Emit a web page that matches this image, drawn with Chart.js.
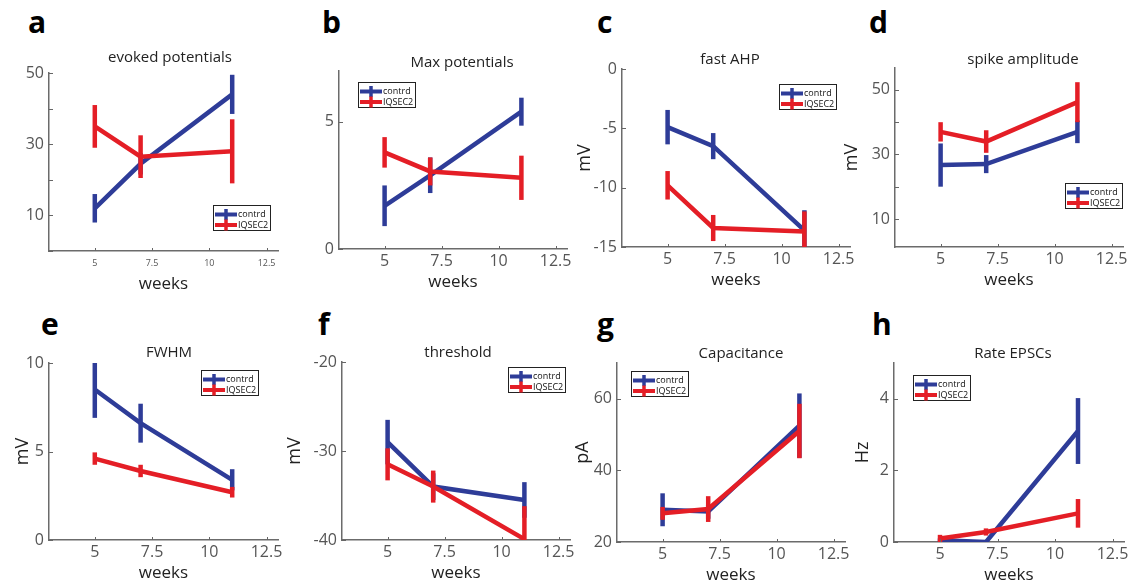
<!DOCTYPE html>
<html>
<head>
<meta charset="utf-8">
<script src="https://cdn.jsdelivr.net/npm/chart.js@4.4.0/dist/chart.umd.min.js"></script>
<style>
  body { margin: 0; background: #fff; width: 1135px; height: 583px; position: relative; overflow: hidden; font-family: 'Open Sans', sans-serif; }
  canvas { position: absolute; }
  .letter { position: absolute; font: bold 30px 'Open Sans', sans-serif; color: #000; line-height: 1; }
  .ttl { position: absolute; width: 240px; text-align: center; font-size: 15px; color: #222; line-height: 1; }
</style>
</head>
<body>
<script>
const weeks = [5, 7, 11];
const xTicks = [5, 7.5, 10, 12.5];
const seriesNames = ['contrd', 'IQSEC2'];
const blue = '#2e3c98';
const red = '#e41e26';

// a — evoked potentials
const evokedCtrl = [12, 24.5, 44];
const evokedCtrlErr = [4, 3, 5.5];
const evokedIq = [35, 26.5, 28];
const evokedIqErr = [6, 6, 9];
// b — max potentials
const maxCtrl = [1.7, 2.9, 5.4];
const maxCtrlErr = [0.8, 0.7, 0.55];
const maxIq = [3.8, 3.05, 2.8];
const maxIqErr = [0.6, 0.55, 0.87];
// c — fast AHP
const ahpCtrl = [-4.9, -6.5, -13.6];
const ahpCtrlErr = [1.45, 1.1, 1.7];
const ahpIq = [-9.8, -13.4, -13.7];
const ahpIqErr = [1.2, 1.1, 1.7];
// d — spike amplitude
const ampCtrl = [26.7, 27, 37];
const ampCtrlErr = [6.7, 2.8, 3.5];
const ampIq = [37, 34, 46.2];
const ampIqErr = [3, 3.5, 6.2];
// e — FWHM
const fwhmCtrl = [8.5, 6.6, 3.4];
const fwhmCtrlErr = [1.6, 1.1, 0.6];
const fwhmIq = [4.6, 3.9, 2.7];
const fwhmIqErr = [0.35, 0.35, 0.3];
// f — threshold
const thrCtrl = [-29, -34, -35.5];
const thrCtrlErr = [2.5, 1.5, 2];
const thrIq = [-31.5, -34, -39.9];
const thrIqErr = [1.8, 1.8, 3.7];
// g — capacitance
const capCtrl = [29, 28.5, 52.5];
const capCtrlErr = [4.6, 2, 9];
const capIq = [28, 29.2, 51];
const capIqErr = [1.8, 3.6, 7.6];
// h — rate EPSCs
const rateCtrl = [0.05, 0, 3.1];
const rateCtrlErr = [0.05, 0.05, 0.92];
const rateIq = [0.1, 0.28, 0.8];
const rateIqErr = [0.1, 0.1, 0.4];

// tick values (all get a mark) and the ones that get a label
const evokedTicks = [0, 10, 20, 30, 40, 50], evokedLabels = [10, 30, 50];
const maxTicks = [0, 5], maxLabels = [0, 5];
const ahpTicks = [0, -5, -10, -15], ahpLabels = [0, -5, -10, -15];
const ampTicks = [10, 20, 30, 40, 50], ampLabels = [10, 30, 50];
const fwhmTicks = [0, 5, 10], fwhmLabels = [0, 5, 10];
const thrTicks = [-20, -30, -40], thrLabels = [-20, -30, -40];
const capTicks = [20, 40, 60], capLabels = [20, 40, 60];
const rateTicks = [0, 2, 4], rateLabels = [0, 2, 4];

// layout: chart area [left, top, right, bottom], letter, title centre, legend top-left, y-title offset
const panels = [
  { letter: 'a', lp: [28, 7], title: 'evoked potentials', tp: [170, 57], area: [49, 73, 278, 251], y: [0, 50],
    ticks: evokedTicks, labels: evokedLabels, yTitle: '', ctrl: evokedCtrl, ctrlErr: evokedCtrlErr, iq: evokedIq, iqErr: evokedIqErr, leg: [213, 205], xSize: 9 },
  { letter: 'b', lp: [322, 7], title: 'Max potentials', tp: [462, 62], area: [339, 71, 567, 249], y: [0, 7],
    ticks: maxTicks, labels: maxLabels, yTitle: '', ctrl: maxCtrl, ctrlErr: maxCtrlErr, iq: maxIq, iqErr: maxIqErr, leg: [358, 82], xSize: 16 },
  { letter: 'c', lp: [597, 7], title: 'fast AHP', tp: [730, 59], area: [622, 69, 850, 247], y: [-15, 0],
    ticks: ahpTicks, labels: ahpLabels, yTitle: 'mV', yd: 37, ctrl: ahpCtrl, ctrlErr: ahpCtrlErr, iq: ahpIq, iqErr: ahpIqErr, leg: [779, 84], xSize: 16 },
  { letter: 'd', lp: [869, 7], title: 'spike amplitude', tp: [1023, 59], area: [895, 68, 1123, 247], y: [1.3, 56.8],
    ticks: ampTicks, labels: ampLabels, yTitle: 'mV', yd: 43, ctrl: ampCtrl, ctrlErr: ampCtrlErr, iq: ampIq, iqErr: ampIqErr, leg: [1065, 183], xSize: 16 },
  { letter: 'e', lp: [41, 309], title: 'FWHM', tp: [169, 352], area: [49, 363, 278, 540], y: [0, 10],
    ticks: fwhmTicks, labels: fwhmLabels, yTitle: 'mV', yd: 26, ctrl: fwhmCtrl, ctrlErr: fwhmCtrlErr, iq: fwhmIq, iqErr: fwhmIqErr, leg: [201, 370], xSize: 16 },
  { letter: 'f', lp: [318, 309], title: 'threshold', tp: [458, 352], area: [342, 362, 570, 540], y: [-40, -20],
    ticks: thrTicks, labels: thrLabels, yTitle: 'mV', yd: 47, ctrl: thrCtrl, ctrlErr: thrCtrlErr, iq: thrIq, iqErr: thrIqErr, leg: [508, 367], xSize: 16 },
  { letter: 'g', lp: [597, 309], title: 'Capacitance', tp: [741, 353], area: [617, 363, 845, 542], y: [20, 70],
    ticks: capTicks, labels: capLabels, yTitle: 'pA', yd: 34, ctrl: capCtrl, ctrlErr: capCtrlErr, iq: capIq, iqErr: capIqErr, leg: [631, 371], xSize: 16 },
  { letter: 'h', lp: [872, 309], title: 'Rate EPSCs', tp: [1013, 353], area: [894, 363, 1124, 542], y: [0, 5],
    ticks: rateTicks, labels: rateLabels, yTitle: 'Hz', yd: 31, ctrl: rateCtrl, ctrlErr: rateCtrlErr, iq: rateIq, iqErr: rateIqErr, leg: [913, 375], xSize: 16 }
];

const PAD = 12, YW = 62, XH = 50;

const decor = {
  id: 'decor',
  afterDatasetDraw(chart, args) {
    const ds = chart.data.datasets[args.index];
    const { x, y } = chart.scales;
    const a = chart.chartArea;
    const ctx = chart.ctx;
    ctx.save();
    ctx.beginPath();
    ctx.rect(a.left, a.top, a.right - a.left, a.bottom - a.top);
    ctx.clip();
    ctx.strokeStyle = ds.borderColor;
    ctx.lineWidth = 4.5;
    ds.data.forEach((pt, i) => {
      const px = x.getPixelForValue(pt.x);
      ctx.beginPath();
      ctx.moveTo(px, y.getPixelForValue(pt.y + ds.err[i]));
      ctx.lineTo(px, y.getPixelForValue(pt.y - ds.err[i]));
      ctx.stroke();
    });
    ctx.restore();
  },
  afterDraw(chart, args, opts) {
    const { x, y } = chart.scales;
    const a = chart.chartArea;
    const ctx = chart.ctx;
    ctx.save();
    ctx.strokeStyle = '#666';
    ctx.lineWidth = 1;
    opts.yTicks.forEach(v => {
      const py = Math.round(y.getPixelForValue(v)) + 0.5;
      ctx.beginPath(); ctx.moveTo(a.left, py); ctx.lineTo(a.left + 4, py); ctx.stroke();
    });
    xTicks.forEach(v => {
      const px = Math.round(x.getPixelForValue(v)) + 0.5;
      ctx.beginPath(); ctx.moveTo(px, a.bottom); ctx.lineTo(px, a.bottom - 3); ctx.stroke();
    });
    // legend box
    const lx = opts.leg[0], ly = opts.leg[1];
    ctx.fillStyle = '#fff';
    ctx.fillRect(lx, ly, 57, 25);
    ctx.strokeStyle = '#222';
    ctx.strokeRect(lx + 0.5, ly + 0.5, 57, 25);
    chart.data.datasets.forEach((ds, i) => {
      const cy = ly + 9.5 + i * 10.5;
      ctx.strokeStyle = ds.borderColor;
      ctx.lineWidth = 4;
      ctx.beginPath(); ctx.moveTo(lx + 2, cy); ctx.lineTo(lx + 24, cy); ctx.stroke();
      ctx.lineWidth = 3.5;
      ctx.beginPath(); ctx.moveTo(lx + 13, cy - 5.5); ctx.lineTo(lx + 13, cy + 5.5); ctx.stroke();
      ctx.fillStyle = '#111';
      ctx.font = "9px 'Open Sans', sans-serif";
      ctx.textBaseline = 'middle';
      ctx.fillText(ds.label, lx + 25, cy);
    });
    ctx.restore();
  }
};

panels.forEach(p => {
  const [L, T, R, B] = p.area;
  const left = L - YW, top = T - PAD;
  const cv = document.createElement('canvas');
  cv.width = YW + (R - L) + PAD;
  cv.height = PAD + (B - T) + XH;
  cv.style.left = left + 'px';
  cv.style.top = top + 'px';
  document.body.appendChild(cv);

  const lt = document.createElement('div');
  lt.className = 'letter';
  lt.textContent = p.letter;
  lt.style.left = p.lp[0] + 'px';
  lt.style.top = p.lp[1] + 'px';
  document.body.appendChild(lt);

  const tt = document.createElement('div');
  tt.className = 'ttl';
  tt.textContent = p.title;
  tt.style.left = (p.tp[0] - 120) + 'px';
  tt.style.top = (p.tp[1] - 8) + 'px';
  document.body.appendChild(tt);

  const line = (vals, errs, color, name, order) => ({
    label: name,
    data: weeks.map((w, i) => ({ x: w, y: vals[i] })),
    err: errs,
    borderColor: color,
    backgroundColor: color,
    borderWidth: 4.5,
    pointRadius: 0,
    showLine: true,
    tension: 0,
    order
  });

  const yFs = 18;
  new Chart(cv, {
    type: 'scatter',
    data: {
      datasets: [
        line(p.ctrl, p.ctrlErr, blue, seriesNames[0], 1),
        line(p.iq, p.iqErr, red, seriesNames[1], 0)
      ]
    },
    options: {
      responsive: false,
      animation: false,
      events: [],
      layout: { padding: { top: PAD, right: PAD, left: 0, bottom: 0 } },
      plugins: {
        legend: { display: false },
        tooltip: { enabled: false },
        decor: { yTicks: p.ticks, leg: [p.leg[0] - left, p.leg[1] - top] }
      },
      scales: {
        x: {
          type: 'linear', min: 3, max: 13,
          afterBuildTicks: s => { s.ticks = xTicks.map(v => ({ value: v })); },
          afterFit: s => { s.height = XH; s.paddingLeft = 0; s.paddingRight = 0; },
          grid: { drawOnChartArea: false, drawTicks: false, color: 'transparent' },
          border: { color: '#6b6b6b', width: 1.5 },
          ticks: { padding: p.xSize < 12 ? 7 : 3, color: '#555', font: { size: p.xSize, family: "'Open Sans', sans-serif" }, callback: v => String(v), maxRotation: 0 },
          title: { display: true, text: 'weeks', color: '#222', font: { size: 17, family: "'Open Sans', sans-serif" },
            padding: { top: 0, bottom: XH - 33 - 17 * 0.6 } }
        },
        y: {
          min: p.y[0], max: p.y[1],
          afterBuildTicks: s => { s.ticks = p.ticks.map(v => ({ value: v })); },
          afterFit: s => { s.width = YW; s.paddingTop = 0; s.paddingBottom = 0; },
          grid: { drawOnChartArea: false, drawTicks: false, color: 'transparent' },
          border: { color: '#6b6b6b', width: 1.5 },
          ticks: { padding: 5, color: '#555', font: { size: 16, family: "'Open Sans', sans-serif" },
            callback: v => p.labels.includes(v) ? String(v) : '' },
          title: { display: !!p.yTitle, text: p.yTitle, color: '#222', font: { size: yFs, family: "'Open Sans', sans-serif" },
            padding: { top: YW - (p.yd || 30) - yFs * 0.6, bottom: 0 } }
        }
      }
    },
    plugins: [decor]
  });
});
</script>
</body>
</html>
